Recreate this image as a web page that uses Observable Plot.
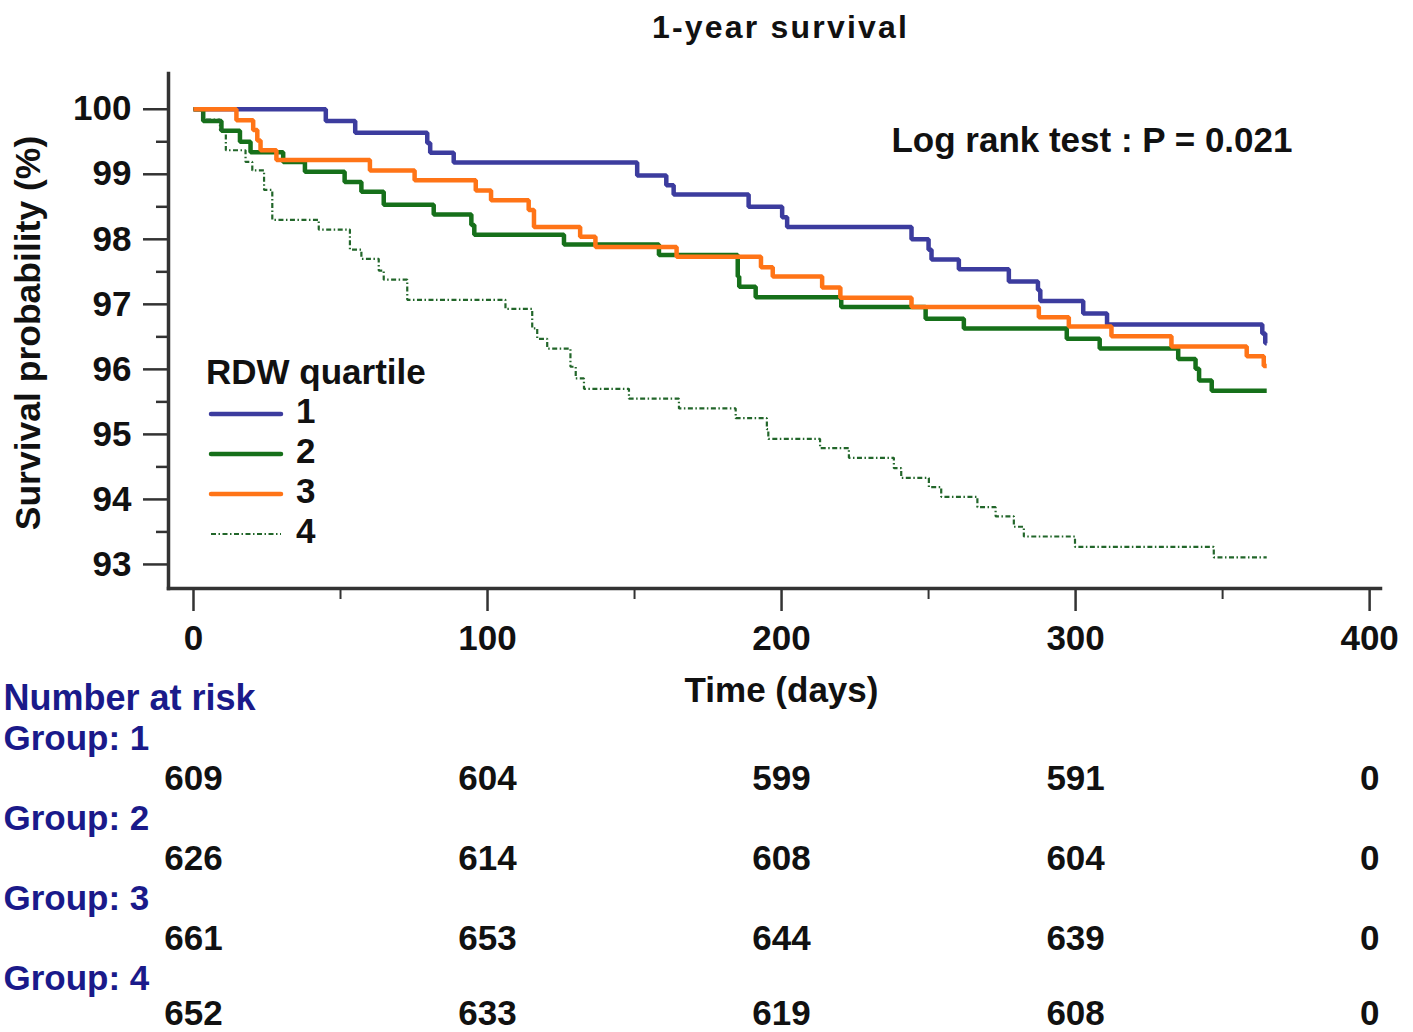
<!DOCTYPE html>
<html><head><meta charset="utf-8">
<script src="https://cdn.jsdelivr.net/npm/d3@7"></script>
<script src="https://cdn.jsdelivr.net/npm/@observablehq/plot@0.6"></script>
<style>
body{margin:0;background:#fff;font-family:"Liberation Sans",Arial,sans-serif;}
#wrap{position:relative;width:1413px;height:1032px;overflow:hidden;}
#legend{position:absolute;left:0;top:0;width:0;height:0;}
.lg{position:absolute;font-weight:bold;font-size:35px;color:#111;white-space:nowrap;line-height:40px;}
</style></head><body><div id="wrap"></div>
<script>
// ---- data ----
const groups = ["1","2","3","4"];
const groupColors = ["#3c3c9e","#16701a","#ff7417","#22662a"];

const g1Time = [0,45,55,79.5,80.5,88.5,150.9,160.8,163.3,188.8,200.2,201.9,244.2,250,251,260.3,277.3,287.2,288,302.6,310.7,363.5,364.5,365];
const g1Surv = [100,99.82,99.64,99.48,99.33,99.18,98.98,98.83,98.69,98.50,98.34,98.19,98.00,97.84,97.69,97.54,97.35,97.22,97.05,96.86,96.69,96.55,96.40,96.40];

const g2Time = [0,3.3,9.5,15.8,19.4,30.5,37.9,51.4,57.1,64.7,81.7,94.5,95.5,126,158.3,185.1,185.6,191.2,220.3,249,262,297,308.2,334.9,340.8,342,346.3,365];
const g2Surv = [100,99.82,99.67,99.50,99.34,99.19,99.04,98.88,98.73,98.53,98.38,98.22,98.07,97.92,97.76,97.43,97.27,97.11,96.96,96.78,96.63,96.47,96.32,96.16,96.01,95.83,95.67,95.67];

const g3Time = [0,14.6,20.3,21.7,22.8,28.2,60,75.2,96,101.2,114,115.8,131.5,136.7,164.3,193,197,213.8,220,244.2,287.5,297.7,312.2,332.6,358.2,364,365];
const g3Surv = [100,99.83,99.68,99.52,99.37,99.22,99.06,98.91,98.75,98.60,98.45,98.19,98.04,97.88,97.73,97.57,97.43,97.26,97.10,96.96,96.80,96.66,96.51,96.35,96.20,96.05,96.05];

const g4Time = [0,3,9,11,17.7,20,24,26.8,42.6,53.2,57.1,63,64.7,72.7,106.1,115.2,116.9,120.3,128.2,130,132.8,148.1,165.1,184.4,195,195.5,213.1,222.9,238.2,240.7,250.1,254.3,266.6,272.8,279,282.4,299.8,347,365];
const g4Surv = [100,99.84,99.68,99.37,99.19,99.06,98.76,98.30,98.15,97.84,97.70,97.52,97.38,97.07,96.93,96.63,96.47,96.32,96.04,95.86,95.70,95.55,95.40,95.25,95.08,94.93,94.79,94.64,94.48,94.33,94.19,94.04,93.88,93.74,93.58,93.43,93.27,93.11,93.11];

const xTicksMajor = [0,100,200,300,400];
const xTicksMinor = [50,150,250,350];
const yTicksMajor = [93,94,95,96,97,98,99,100];
const yTicksMinor = [93.5,94.5,95.5,96.5,97.5,98.5,99.5];

const riskDays = [0,100,200,300,400];
const risk1 = [609,604,599,591,0];
const risk2 = [626,614,608,604,0];
const risk3 = [661,653,644,639,0];
const risk4 = [652,633,619,608,0];

const titleText = "1-year survival";
const pText = "Log rank test : P = 0.021";
const xLabel = "Time (days)";
const yLabel = "Survival probability (%)";
const legendTitle = "RDW quartile";
const riskTitle = "Number at risk";

// ---- build ----
const series = [[g1Time,g1Surv],[g2Time,g2Surv],[g3Time,g3Surv],[g4Time,g4Surv]]
  .map(([t,s],gi) => t.map((d,i) => ({group: groups[gi], day: d, surv: s[i]})));
const risks = [risk1,risk2,risk3,risk4];

const F = '"Liberation Sans", Arial, Helvetica, sans-serif';
const AX = "#333";
const NAVY = "#1a1a8a";
const FS = 35;
const frameBottom = 588;
const rowY = {hdr: 698, groups: [738,818,898,978], nums: [778,858,938,1013]};

const lineMark = (gi, extra) => Plot.line(series[gi], Object.assign({
  x: "day", y: "surv", curve: "step-after", stroke: groupColors[gi],
  strokeWidth: 4.5, strokeLinecap: "butt", strokeLinejoin: "miter"
}, extra || {}));

const marks = [
  Plot.axisY(yTicksMinor, {tickSize: 12, tickFormat: () => "", stroke: AX, strokeWidth: 2.5, label: null}),
  Plot.axisY(yTicksMajor, {tickSize: 25, tickPadding: 12, tickFormat: d3.format("d"), stroke: AX, strokeWidth: 2.5, fill: "#111",
    fontSize: FS, fontWeight: "bold", label: null}),
  Plot.axisX(xTicksMinor, {tickSize: 11, tickFormat: () => "", stroke: AX, strokeWidth: 2, label: null}),
  Plot.axisX(xTicksMajor, {tickSize: 23, tickPadding: 14, tickFormat: d3.format("d"), stroke: AX, strokeWidth: 2.5, fill: "#111",
    fontSize: FS, fontWeight: "bold", label: null}),
  Plot.frame({anchor: "left", stroke: AX, strokeWidth: 3.5}),
  Plot.frame({anchor: "bottom", stroke: AX, strokeWidth: 3.5}),
  lineMark(0),
  lineMark(1),
  lineMark(3, {strokeWidth: 2.2, strokeDasharray: "5,2.5,1.5,2.5"}),
  lineMark(2),
  // title & annotations
  Plot.text([titleText], {frameAnchor: "top", dx: 6, dy: 27 - 73, text: d => d, fontSize: 32,
    fontWeight: "bold", fill: "#111", lineAnchor: "middle"}),
  Plot.text([pText], {frameAnchor: "top-right", dx: -88, dy: 140 - 73, text: d => d, fontSize: FS,
    fontWeight: "bold", fill: "#111", textAnchor: "end", lineAnchor: "middle"}),
  Plot.text([xLabel], {frameAnchor: "bottom", dx: 7, dy: 690 - frameBottom, text: d => d, fontSize: FS,
    fontWeight: "bold", fill: "#111", lineAnchor: "middle"}),
  Plot.text([yLabel], {frameAnchor: "left", dx: 28 - 168, dy: 2, rotate: -90, text: d => d, fontSize: 35.5,
    fontWeight: "bold", fill: "#111", textAnchor: "middle", lineAnchor: "middle"}),
  // number at risk table
  Plot.text([riskTitle], {frameAnchor: "bottom-left", dx: 3 - 168, dy: rowY.hdr - frameBottom, text: d => d,
    fontSize: 36, fontWeight: "bold", fill: NAVY, textAnchor: "start", lineAnchor: "middle"})
];
groups.forEach((g, gi) => {
  marks.push(Plot.text([`Group: ${g}`], {frameAnchor: "bottom-left", dx: 3 - 168, dy: rowY.groups[gi] - frameBottom,
    text: d => d, fontSize: FS, fontWeight: "bold", fill: NAVY, textAnchor: "start", lineAnchor: "middle"}));
  marks.push(Plot.text(riskDays, {x: d => d, frameAnchor: "bottom", dy: rowY.nums[gi] - frameBottom,
    text: (d, i) => String(risks[gi][i]), fontSize: FS, fontWeight: "bold", fill: "#111", lineAnchor: "middle"}));
});

const chart = Plot.plot({
  width: 1413, height: 1032,
  marginTop: 73, marginBottom: 1032 - frameBottom, marginLeft: 168, marginRight: 33,
  style: {fontFamily: F, background: "white", overflow: "visible"},
  x: {domain: [-8.5, 403.7]},
  y: {domain: [92.63, 100.55]},
  marks
});
// widen the title's letter spacing as in the reference
d3.select(chart).selectAll("text").filter(function() { return this.textContent === titleText; })
  .attr("letter-spacing", "2.2px");
const wrap = document.getElementById("wrap");
wrap.appendChild(chart);

// ---- legend (HTML overlay) ----
const lg = document.createElement("div");
lg.id = "legend";
const t = document.createElement("div");
t.className = "lg"; t.style.left = "206px"; t.style.top = "352px"; t.textContent = legendTitle;
lg.appendChild(t);
groups.forEach((g, gi) => {
  const cy = 414 + gi * 40;
  const sw = document.createElementNS("http://www.w3.org/2000/svg", "svg");
  sw.setAttribute("width", 76); sw.setAttribute("height", 10);
  sw.style.position = "absolute"; sw.style.left = "208px"; sw.style.top = (cy - 5) + "px";
  const ln = document.createElementNS("http://www.w3.org/2000/svg", "line");
  ln.setAttribute("x1", 3); ln.setAttribute("x2", 73); ln.setAttribute("y1", 5); ln.setAttribute("y2", 5);
  ln.setAttribute("stroke", groupColors[gi]);
  ln.setAttribute("stroke-width", gi === 3 ? 2.2 : 4.5);
  ln.setAttribute("stroke-linecap", gi === 3 ? "butt" : "round");
  if (gi === 3) ln.setAttribute("stroke-dasharray", "5,2.5,1.5,2.5");
  sw.appendChild(ln);
  lg.appendChild(sw);
  const lab = document.createElement("div");
  lab.className = "lg"; lab.style.left = "296px"; lab.style.top = (cy - 23) + "px"; lab.textContent = g;
  lg.appendChild(lab);
});
wrap.appendChild(lg);
</script></body></html>
